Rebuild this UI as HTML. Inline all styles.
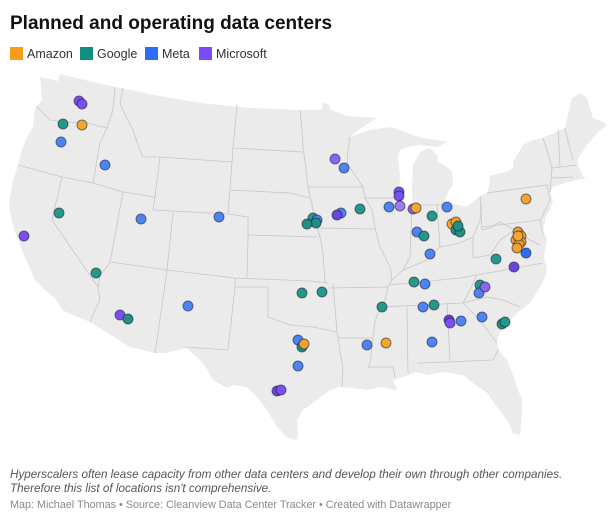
<!DOCTYPE html>
<html>
<head>
<meta charset="utf-8">
<style>
  html,body{margin:0;padding:0;background:#fff;}
  body{width:616px;height:522px;overflow:hidden;}
  svg{display:block;}
  text{font-family:"Liberation Sans", Arial, sans-serif;}
</style>
</head>
<body>
<svg width="616" height="522" viewBox="0 0 616 522" xmlns="http://www.w3.org/2000/svg">
  <rect width="616" height="522" fill="#ffffff"/>
  <text x="10" y="29" font-size="19" font-weight="bold" fill="#111">Planned and operating data centers</text>

  <!-- legend -->
  <rect x="10" y="47" width="13" height="13" fill="#fa9c1b"/>
  <text x="27" y="58" font-size="12.5" fill="#333">Amazon</text>
  <rect x="80" y="47" width="13" height="13" fill="#12907e"/>
  <text x="97" y="58" font-size="12.5" fill="#333">Google</text>
  <rect x="145" y="47" width="13" height="13" fill="#2f6cf5"/>
  <text x="162" y="58" font-size="12.5" fill="#333">Meta</text>
  <rect x="199" y="47" width="13" height="13" fill="#7b4dfa"/>
  <text x="216" y="58" font-size="12.5" fill="#333">Microsoft</text>

  <!-- US outline -->
  <path fill="#ebebeb" stroke="none" d="M40,77 L50,79 L58,81 L60,74 L63,75 L115,87 L160,96 L200,103 L250,108 L300,110 L322,110 L323,103 L328,104 L331,110 L347,116 L362,117 L377,118 L366,125 L357,131 L350,137 L370,130 L390,127 L400,130 L413,135 L423,138 L437,140 L447,142 L438,147 L420,145 L408,147 L400,150 L398,158 L400,175 L399,193 L402,205 L407,208 L413,207 L412,195 L412,185 L413,165 L420,152 L430,148 L437,155 L438,162 L447,167 L452,172 L453,185 L448,192 L445,200 L443,205 L447,203 L458,205 L467,207 L475,200 L480,196 L487,193 L489,186 L490,176 L497,174 L507,172 L513,168 L513,162 L523,145 L533,140 L543,138 L558,131 L565,128 L568,115 L572,98 L580,93 L587,98 L593,118 L603,122 L607,125 L597,133 L587,145 L580,155 L577,162 L580,170 L583,177 L587,178 L577,180 L567,182 L560,185 L553,187 L550,192 L553,200 L550,210 L546,216 L545,222 L543,230 L547,240 L545,250 L544,258 L547,268 L545,277 L540,287 L530,303 L517,313 L503,327 L498,337 L497,343 L500,352 L507,360 L512,372 L517,387 L522,400 L522,413 L520,435 L513,433 L507,420 L497,407 L487,393 L473,383 L463,375 L443,372 L427,375 L417,372 L403,377 L393,380 L397,390 L380,387 L367,390 L353,388 L340,387 L330,390 L317,400 L303,410 L297,420 L298,433 L297,440 L287,437 L277,427 L267,410 L257,397 L247,387 L233,385 L227,388 L213,380 L203,363 L187,348 L165,353 L155,353 L130,347 L90,322 L75,316 L62,310 L55,298 L45,290 L35,280 L30,268 L25,258 L20,245 L15,232 L12,222 L9,205 L12,185 L18,165 L22,150 L27,137 L33,127 L35,108 L42,100 Z"/>

  <!-- state borders -->
  <g fill="none" stroke="#c6c6c6" stroke-width="0.8" stroke-linejoin="round">
    <polyline points="37,107 40,110 50,120 63,122 87,123 107,128"/>
    <polyline points="115,87 113,110 107,128 100,143 97,160 93,183"/>
    <polyline points="18,165 62,177 93,183 123,192 155,197"/>
    <polyline points="62,177 52,220 98,287 100,300 95,310 90,322"/>
    <polyline points="123,192 110,262 106,268 100,275 98,287"/>
    <polyline points="110,262 167,270 235,278 310,281 328,283"/>
    <polyline points="167,270 157,340 155,353"/>
    <polyline points="155,197 153,210 228,214 248,217"/>
    <polyline points="173,213 167,270"/>
    <polyline points="123,88 120,103 125,115 133,130 138,145 143,157 160,157 155,197"/>
    <polyline points="160,157 232,162"/>
    <polyline points="237,105 233,148 232,162 228,214"/>
    <polyline points="233,148 303,152"/>
    <polyline points="230,190 290,193 310,198"/>
    <polyline points="248,217 248,235 247,278"/>
    <polyline points="248,235 317,237"/>
    <polyline points="317,228 320,237 323,253 325,283"/>
    <polyline points="300,110 302,130 303,147 306,170 308,187 312,205 317,228"/>
    <polyline points="308,187 363,187"/>
    <polyline points="350,137 348,150 347,163 355,175 363,187 365,198 372,210 375,228 380,247 390,267 392,280 388,287 385,300 380,307 375,322 373,338 370,363 368,367 393,367 395,377"/>
    <polyline points="365,198 400,198"/>
    <polyline points="317,228 375,229"/>
    <polyline points="328,288 388,287"/>
    <polyline points="333,283 337,332 338,338 340,352 343,367 342,387"/>
    <polyline points="235,278 235,287 268,287 268,317 290,325 313,327 337,332"/>
    <polyline points="235,287 228,350 185,347"/>
    <polyline points="338,338 373,338"/>
    <polyline points="380,307 463,303 487,297 503,300 520,307"/>
    <polyline points="407,307 408,373"/>
    <polyline points="447,303 450,360"/>
    <polyline points="417,363 447,362 493,360 498,350"/>
    <polyline points="463,303 480,320 497,343"/>
    <polyline points="463,303 470,290 477,275"/>
    <polyline points="390,285 460,278 477,275 543,263"/>
    <polyline points="412,205 410,257 403,270"/>
    <polyline points="392,280 403,270 427,260 440,247 460,243 473,237 480,220 482,205"/>
    <polyline points="437,205 440,247"/>
    <polyline points="413,205 443,205"/>
    <polyline points="480,196 482,230 490,228 500,222 515,230 530,240 540,245"/>
    <polyline points="473,237 473,258 490,255 500,240 515,230"/>
    <polyline points="482,227 540,220"/>
    <polyline points="487,193 547,185 550,200 543,215 540,220 543,235"/>
    <polyline points="543,138 547,150 552,168 550,192"/>
    <polyline points="558,130 560,167"/>
    <polyline points="565,128 570,150 573,160"/>
    <polyline points="552,168 577,165"/>
    <polyline points="552,178 574,177"/>
  </g>

  <!-- dots -->
  <g stroke="rgba(20,20,40,0.55)" stroke-width="1">
    <g fill="#7a50f2">
      <circle cx="79" cy="101" r="5"/><circle cx="82" cy="104" r="5"/>
    </g>
    <circle cx="63" cy="124" r="5" fill="#22998a"/>
    <circle cx="82" cy="125" r="5" fill="#f5a530"/>
    <circle cx="61" cy="142" r="5" fill="#4d84f3"/>
    <circle cx="105" cy="165" r="5" fill="#4d84f3"/>
    <circle cx="59" cy="213" r="5" fill="#22998a"/>
    <circle cx="24" cy="236" r="5" fill="#7a50f2"/>
    <circle cx="141" cy="219" r="5" fill="#4d84f3"/>
    <circle cx="219" cy="217" r="5" fill="#4d84f3"/>
    <circle cx="96" cy="273" r="5" fill="#22998a"/>
    <circle cx="120" cy="315" r="5" fill="#7a50f2"/>
    <circle cx="128" cy="319" r="5" fill="#1d9282"/>
    <circle cx="188" cy="306" r="5" fill="#4d84f3"/>
    <circle cx="302" cy="293" r="5" fill="#22998a"/>
    <circle cx="322" cy="292" r="5" fill="#22998a"/>
    <circle cx="298" cy="340" r="5" fill="#4d84f3"/>
    <circle cx="302" cy="347" r="5" fill="#1d9282"/>
    <circle cx="304" cy="344" r="5" fill="#f0a030"/>
    <circle cx="298" cy="366" r="5" fill="#4d84f3"/>
    <circle cx="277" cy="391" r="5" fill="#6b45e0"/>
    <circle cx="281" cy="390" r="5" fill="#7a50f2"/>
    <circle cx="335" cy="159" r="5" fill="#8a65f2"/>
    <circle cx="344" cy="168" r="5" fill="#4d84f3"/>
    <circle cx="313" cy="218" r="5" fill="#22998a"/>
    <circle cx="317" cy="220" r="5" fill="#4d84f3"/>
    <circle cx="316" cy="223" r="5" fill="#1d9282"/>
    <circle cx="307" cy="224" r="5" fill="#1d9282"/>
    <circle cx="341" cy="213" r="5" fill="#4d84f3"/>
    <circle cx="337" cy="215" r="5" fill="#6b45e0"/>
    <circle cx="360" cy="209" r="5" fill="#22998a"/>
    <circle cx="389" cy="207" r="5" fill="#4d84f3"/>
    <circle cx="399" cy="192" r="5" fill="#7a50f2"/>
    <circle cx="399" cy="196" r="5" fill="#7a50f2"/>
    <circle cx="400" cy="206" r="5" fill="#9b7cf5"/>
    <circle cx="413" cy="209" r="5" fill="#8a65f2"/>
    <circle cx="416" cy="208" r="5" fill="#f5a530"/>
    <circle cx="447" cy="207" r="5" fill="#4d84f3"/>
    <circle cx="432" cy="216" r="5" fill="#22998a"/>
    <circle cx="417" cy="232" r="5" fill="#4d84f3"/>
    <circle cx="424" cy="236" r="5" fill="#22998a"/>
    <circle cx="430" cy="254" r="5" fill="#4d84f3"/>
    <circle cx="452" cy="224" r="5" fill="#f5a530"/>
    <circle cx="456" cy="222" r="5" fill="#f5a530"/>
    <circle cx="456" cy="230" r="5" fill="#1d9282"/>
    <circle cx="460" cy="232" r="5" fill="#1d9282"/>
    <circle cx="458" cy="226" r="5" fill="#1d9282"/>
    <circle cx="526" cy="199" r="5" fill="#f5a530"/>
    <circle cx="518" cy="232" r="5" fill="#f0a030"/>
    <circle cx="521" cy="236" r="5" fill="#f0a030"/>
    <circle cx="516" cy="240" r="5" fill="#f0a030"/>
    <circle cx="521" cy="242" r="5" fill="#f0a030"/>
    <circle cx="519" cy="244" r="5" fill="#f0a030"/>
    <circle cx="517" cy="248" r="5" fill="#f0a030"/>
    <circle cx="518" cy="236" r="5" fill="#f5a530"/>
    <circle cx="526" cy="253" r="5" fill="#2f6cf5"/>
    <circle cx="496" cy="259" r="5" fill="#22998a"/>
    <circle cx="514" cy="267" r="5" fill="#6b45e0"/>
    <circle cx="414" cy="282" r="5" fill="#22998a"/>
    <circle cx="425" cy="284" r="5" fill="#4d84f3"/>
    <circle cx="382" cy="307" r="5" fill="#22998a"/>
    <circle cx="423" cy="307" r="5" fill="#4d84f3"/>
    <circle cx="434" cy="305" r="5" fill="#22998a"/>
    <circle cx="480" cy="285" r="5" fill="#22998a"/>
    <circle cx="479" cy="293" r="5" fill="#4d84f3"/>
    <circle cx="485" cy="287" r="5" fill="#8a65f2"/>
    <circle cx="449" cy="320" r="5" fill="#6b45e0"/>
    <circle cx="450" cy="323" r="5" fill="#7a50f2"/>
    <circle cx="461" cy="321" r="5" fill="#4d84f3"/>
    <circle cx="482" cy="317" r="5" fill="#4d84f3"/>
    <circle cx="502" cy="324" r="5" fill="#1d9282"/>
    <circle cx="505" cy="322" r="5" fill="#22998a"/>
    <circle cx="367" cy="345" r="5" fill="#4d84f3"/>
    <circle cx="386" cy="343" r="5" fill="#f5a530"/>
    <circle cx="432" cy="342" r="5" fill="#4d84f3"/>
  </g>

  <!-- footnotes -->
  <text x="10" y="478" font-size="11.7" font-style="italic" fill="#555">Hyperscalers often lease capacity from other data centers and develop their own through other companies.</text>
  <text x="10" y="492" font-size="11.7" font-style="italic" fill="#555">Therefore this list of locations isn't comprehensive.</text>
  <text x="10" y="508" font-size="10.8" fill="#8a8a8a">Map: Michael Thomas • Source: Cleanview Data Center Tracker • Created with Datawrapper</text>
</svg>
</body>
</html>
